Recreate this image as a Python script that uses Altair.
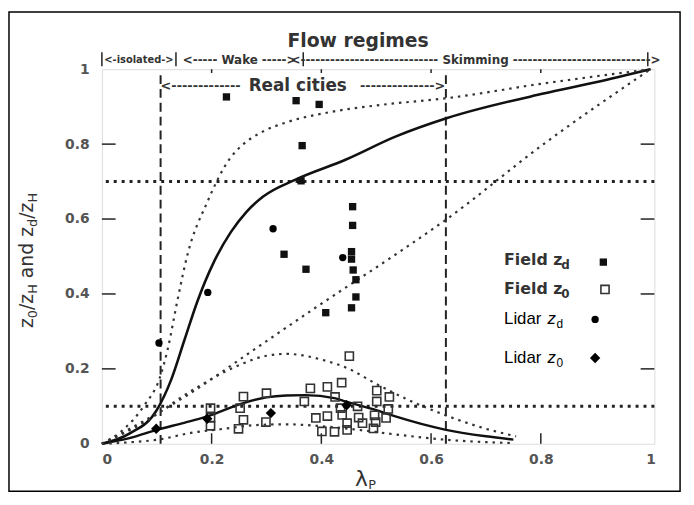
import altair as alt
import pandas as pd

# ---------------- data ----------------
field_zd_x = [0.227, 0.354, 0.396, 0.365, 0.363, 0.457, 0.457, 0.332, 0.455, 0.455,
              0.372, 0.458, 0.463, 0.463, 0.455, 0.408]
field_zd_y = [0.926, 0.916, 0.906, 0.796, 0.702, 0.633, 0.583, 0.506, 0.513, 0.493,
              0.466, 0.464, 0.438, 0.392, 0.363, 0.350]

field_z0_x = [0.198, 0.198, 0.198, 0.258, 0.252, 0.258, 0.249, 0.300, 0.299,
              0.369, 0.380, 0.411, 0.437, 0.425, 0.451, 0.390, 0.411, 0.438,
              0.401, 0.424, 0.447, 0.447, 0.435, 0.466, 0.475, 0.501, 0.524,
              0.501, 0.522, 0.497, 0.518, 0.495, 0.499, 0.468]
field_z0_y = [0.095, 0.070, 0.048, 0.126, 0.095, 0.064, 0.040, 0.135, 0.058,
              0.113, 0.148, 0.152, 0.163, 0.125, 0.234, 0.069, 0.074, 0.077,
              0.033, 0.032, 0.037, 0.055, 0.095, 0.100, 0.055, 0.142, 0.125,
              0.113, 0.093, 0.076, 0.069, 0.041, 0.058, 0.070]

lidar_zd_x = [0.104, 0.193, 0.312, 0.439]
lidar_zd_y = [0.269, 0.404, 0.574, 0.497]
lidar_z0_x = [0.099, 0.192, 0.308, 0.446]
lidar_z0_y = [0.040, 0.067, 0.082, 0.103]

# model curves
zd_solid_x = [0, 0.05, 0.10, 0.126, 0.15, 0.174, 0.204, 0.235, 0.264, 0.294, 0.354,
              0.445, 0.535, 0.628, 0.805, 0.90, 1.0]
zd_solid_y = [0, 0.027, 0.09, 0.17, 0.275, 0.38, 0.485, 0.565, 0.620, 0.660, 0.706,
              0.759, 0.82, 0.869, 0.935, 0.965, 1.0]
zd_dot_x = [0, 0.036, 0.078, 0.105, 0.12, 0.138, 0.156, 0.192, 0.234, 0.258, 0.294,
            0.336, 0.414, 0.51, 0.625, 0.805, 1.0]
zd_dot_y = [0, 0.034, 0.104, 0.174, 0.253, 0.385, 0.505, 0.645, 0.763, 0.800, 0.834,
            0.858, 0.885, 0.905, 0.922, 0.962, 1.0]
diag_x = [0, 0.156, 0.276, 0.39, 0.547, 0.625, 0.805, 1.0]
diag_y = [0, 0.13, 0.25, 0.364, 0.517, 0.596, 0.80, 1.0]
z0_solid_x = [0, 0.05, 0.102, 0.15, 0.192, 0.252, 0.30, 0.336, 0.37, 0.426, 0.444,
              0.50, 0.535, 0.625, 0.70, 0.75]
z0_solid_y = [0, 0.015, 0.038, 0.056, 0.073, 0.106, 0.124, 0.129, 0.130, 0.121, 0.113,
              0.090, 0.073, 0.038, 0.020, 0.011]
z0_up_x = [0, 0.08, 0.156, 0.25, 0.30, 0.336, 0.40, 0.45, 0.50, 0.553, 0.625, 0.70, 0.755]
z0_up_y = [0, 0.06, 0.135, 0.21, 0.235, 0.240, 0.225, 0.200, 0.160, 0.121, 0.077, 0.040, 0.020]
z0_low_x = [0, 0.05, 0.102, 0.162, 0.222, 0.282, 0.336, 0.40, 0.45, 0.535, 0.625, 0.745]
z0_low_y = [0, 0.004, 0.011, 0.029, 0.040, 0.050, 0.052, 0.047, 0.040, 0.025, 0.011, 0.002]

ref_h = [0.1, 0.7]
ref_v = [0.107, 0.627]
tick_vals = [0.2, 0.4, 0.6, 0.8]
axis_vals = [0, 0.2, 0.4, 0.6, 0.8, 1.0]

# ---------------- scales / axes ----------------
XS = alt.Scale(domain=[0, 1.007], nice=False, zero=False)
YS = alt.Scale(domain=[0, 1.0], nice=False, zero=False)
XA = alt.Axis(values=axis_vals, format="~g", ticks=False, domain=False, grid=False,
              labelFont="DejaVu Sans", labelFontSize=14, labelFontWeight="bold",
              labelColor="#555", labelPadding=9, title=None)
YA = alt.Axis(values=axis_vals, format="~g", ticks=False, domain=False, grid=False,
              labelFont="DejaVu Sans", labelFontSize=14, labelFontWeight="bold",
              labelColor="#555", labelPadding=13, title=None)


def X(f="x"):
    return alt.X(f"{f}:Q", scale=XS, axis=XA, title=None)


def Y(f="y"):
    return alt.Y(f"{f}:Q", scale=YS, axis=YA, title=None)


def line(xs, ys, **kw):
    df = pd.DataFrame({"x": xs, "y": ys, "o": range(len(xs))})
    return alt.Chart(df).mark_line(interpolate="monotone", **kw).encode(
        x=X(), y=Y(), order="o:Q")


def txt(x, y, s, size, dx=0, dy=0, align="left", font="DejaVu Sans", weight="normal",
        color="#333", angle=0, style="normal", baseline="middle"):
    df = pd.DataFrame({"x": [x], "y": [y], "t": [s]})
    kw = dict(dx=dx, dy=dy, align=align, font=font, fontWeight=weight, fontSize=size,
              color=color, baseline=baseline, fontStyle=style)
    if angle:
        kw["angle"] = angle
    return alt.Chart(df).mark_text(**kw).encode(x=X(), y=Y(), text="t:N")


layers = []

# reference lines
layers.append(alt.Chart(pd.DataFrame({"y": ref_h})).mark_rule(
    color="#222", strokeWidth=3, strokeDash=[3, 5]).encode(y=Y()))
layers.append(alt.Chart(pd.DataFrame({"x": ref_v, "y": [0, 0], "y2": [0.99, 0.99]})).mark_rule(
    color="#222", strokeWidth=2, strokeDash=[9, 5]).encode(x=X(), y=Y(), y2="y2:Q"))

# model curves
layers.append(line(zd_solid_x, zd_solid_y, color="#111", strokeWidth=2.6))
layers.append(line(zd_dot_x, zd_dot_y, color="#333", strokeWidth=2.2, strokeDash=[2.5, 5]))
layers.append(line(diag_x, diag_y, color="#333", strokeWidth=2.2, strokeDash=[2.5, 5]))
layers.append(line(z0_solid_x, z0_solid_y, color="#111", strokeWidth=2.4))
layers.append(line(z0_up_x, z0_up_y, color="#333", strokeWidth=2.2, strokeDash=[2.5, 5]))
layers.append(line(z0_low_x, z0_low_y, color="#333", strokeWidth=2.2, strokeDash=[2.5, 5]))

# ticks (inward)
tk = pd.DataFrame({"v": tick_vals})
layers.append(alt.Chart(tk).mark_rule(color="#222", strokeWidth=1.5).encode(
    x=alt.X("v:Q", scale=XS, axis=XA, title=None), y=alt.YDatum(0, scale=YS, axis=YA),
    y2=alt.Y2Datum(0.028)))
layers.append(alt.Chart(tk).mark_rule(color="#222", strokeWidth=1.5).encode(
    x=alt.X("v:Q", scale=XS, axis=XA, title=None), y=alt.YDatum(0.99, scale=YS, axis=YA),
    y2=alt.Y2Datum(1.0)))
layers.append(alt.Chart(tk).mark_rule(color="#222", strokeWidth=1.5).encode(
    y=alt.Y("v:Q", scale=YS, axis=YA, title=None), x=alt.XDatum(0, scale=XS, axis=XA),
    x2=alt.X2Datum(0.025)))
layers.append(alt.Chart(tk).mark_rule(color="#222", strokeWidth=1.5).encode(
    y=alt.Y("v:Q", scale=YS, axis=YA, title=None), x=alt.XDatum(0.982, scale=XS, axis=XA),
    x2=alt.X2Datum(1.007)))

# data points
layers.append(alt.Chart(pd.DataFrame({"x": field_z0_x, "y": field_z0_y})).mark_point(
    shape="square", filled=False, size=68, strokeWidth=1.6, opacity=1, color="#333").encode(x=X(), y=Y()))
layers.append(alt.Chart(pd.DataFrame({"x": field_zd_x, "y": field_zd_y})).mark_point(
    shape="square", filled=True, size=55, opacity=1, color="#111").encode(x=X(), y=Y()))
layers.append(alt.Chart(pd.DataFrame({"x": lidar_zd_x, "y": lidar_zd_y})).mark_point(
    shape="circle", filled=True, size=55, opacity=1, color="#000").encode(x=X(), y=Y()))
layers.append(alt.Chart(pd.DataFrame({"x": lidar_z0_x, "y": lidar_z0_y})).mark_point(
    shape="diamond", filled=True, size=110, opacity=1, color="#000").encode(x=X(), y=Y()))

# legend markers
layers.append(alt.Chart(pd.DataFrame({"x": [0.914], "y": [0.485]})).mark_point(
    shape="square", filled=True, size=55, opacity=1, color="#111").encode(x=X(), y=Y()))
layers.append(alt.Chart(pd.DataFrame({"x": [0.917], "y": [0.412]})).mark_point(
    shape="square", filled=False, size=68, strokeWidth=1.6, opacity=1, color="#333").encode(x=X(), y=Y()))
layers.append(alt.Chart(pd.DataFrame({"x": [0.899], "y": [0.332]})).mark_point(
    shape="circle", filled=True, size=55, opacity=1, color="#000").encode(x=X(), y=Y()))
layers.append(alt.Chart(pd.DataFrame({"x": [0.899], "y": [0.229]})).mark_point(
    shape="diamond", filled=True, size=110, opacity=1, color="#000").encode(x=X(), y=Y()))

# legend text
lx = 0.733
layers.append(txt(lx, 0.490, "Field z", 16, weight="bold", color="#333"))
layers.append(txt(lx, 0.490, "d", 12, dx=58, dy=5, weight="bold", color="#333"))
layers.append(txt(lx, 0.412, "Field z", 16, weight="bold", color="#333"))
layers.append(txt(lx, 0.412, "0", 12, dx=58, dy=5, weight="bold", color="#333"))
layers.append(txt(lx, 0.332, "Lidar", 17, font="Liberation Sans", color="#000"))
layers.append(txt(lx, 0.332, "z", 17, dx=44, font="Liberation Sans", color="#000", style="italic"))
layers.append(txt(lx, 0.332, "d", 12, dx=53, dy=5, font="Liberation Sans", color="#000"))
layers.append(txt(lx, 0.230, "Lidar", 17, font="Liberation Sans", color="#000"))
layers.append(txt(lx, 0.230, "z", 17, dx=44, font="Liberation Sans", color="#000", style="italic"))
layers.append(txt(lx, 0.230, "0", 12, dx=53, dy=5, font="Liberation Sans", color="#000"))

# top annotations
layers.append(txt(0.467, 1.074, "Flow regimes", 19, align="center", weight="bold"))
bar = pd.DataFrame({"x": [0.0, 0.135, 0.367, 0.995], "y": [1.008] * 4, "y2": [1.045] * 4})
layers.append(alt.Chart(bar).mark_rule(color="#222", strokeWidth=1.5).encode(
    x=X(), y=Y(), y2="y2:Q"))
layers.append(txt(0.0675, 1.025, "<-isolated->", 10, align="center", weight="bold"))
layers.append(txt(0.251, 1.025, "<----- Wake ----->", 12, align="center", weight="bold"))
layers.append(txt(0.681, 1.025, "<" + "-" * 28 + " Skimming " + "-" * 28 + ">", 12,
                  align="center", weight="bold"))
layers.append(txt(0.107, 0.955, "<" + "-" * 13, 13, align="left", weight="bold"))
layers.append(txt(0.357, 0.955, "Real cities", 17, align="center", weight="bold"))
layers.append(txt(0.626, 0.955, "-" * 14 + ">", 13, align="right", weight="bold"))

# x title  λ_P
layers.append(txt(0.473, -0.095, "λ", 22, align="center"))
layers.append(txt(0.473, -0.095, "P", 13, dx=7, dy=6))

# y title  z0/zH and zd/zH (rotated, read bottom to top)
ya = 0.309
yt_pieces = [("z", 19, 0, 0), ("0", 13, 10.0, 4), ("/z", 19, 18.3, 0), ("H", 13, 34.7, 4),
             ("and z", 19, 50.5, 0), ("d", 13, 102.2, 4), ("/z", 19, 110.5, 0),
             ("H", 13, 126.9, 4)]
for s, fs, ddx, ddy in yt_pieces:
    df = pd.DataFrame({"y": [ya], "t": [s]})
    layers.append(alt.Chart(df).mark_text(
        angle=270, align="left", baseline="alphabetic", dx=ddx, dy=ddy, fontSize=fs,
        font="DejaVu Sans", color="#333").encode(
        x=alt.value(-70), y=alt.Y("y:Q", scale=YS, axis=YA, title=None), text="t:N"))

# outer frame
layers.append(alt.Chart(pd.DataFrame({"a": [0]})).mark_rect(
    fill=None, stroke="#000", strokeWidth=1.5).encode(
    x=alt.value(-94), x2=alt.value(585), y=alt.value(-58), y2=alt.value(427)))

chart = alt.layer(*layers).properties(
    width=559, height=379,
    autosize=alt.AutoSizeParams(type="none"),
    padding={"left": 95, "top": 59, "right": 32, "bottom": 59},
).configure_view(stroke="#111", strokeWidth=2).configure(background="white")

chart.save("out.html", embed_options={"renderer": "svg", "actions": False})
